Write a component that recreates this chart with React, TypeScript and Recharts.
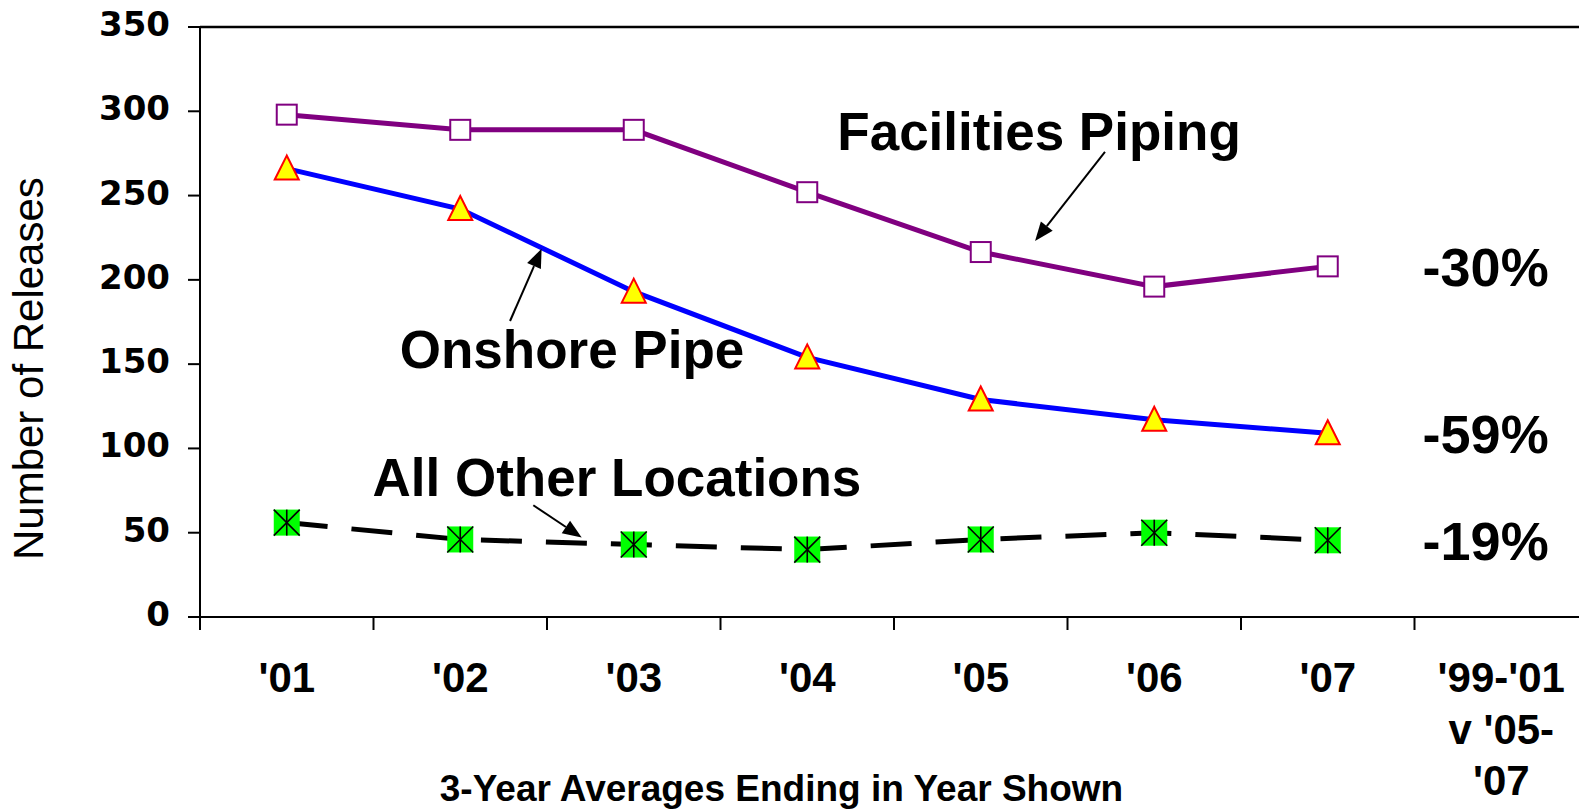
import { LineChart, Line, XAxis, YAxis, ReferenceLine, ReferenceDot } from "recharts";

// 3-year averages ending in year shown; last column is the '99-'01 vs '05-'07 change
const categories = ["'01", "'02", "'03", "'04", "'05", "'06", "'07", "'99-'01\nv '05-\n'07"];
const facilitiesPiping = [298, 289, 289, 252, 216.5, 196, 208];
const onshorePipe = [266, 242, 193, 154, 129, 117, 109];
const otherLocations = [56, 46, 43, 40, 46, 50, 45.5];
const changeLabels = ["-30%", "-59%", "-19%"];
const yTicks = [0, 50, 100, 150, 200, 250, 300, 350];

// band i is centred on i + 0.5 of a numeric axis running 0..8
const data = facilitiesPiping.map((_, i) => ({
  x: i + 0.5,
  facilities: facilitiesPiping[i],
  onshore: onshorePipe[i],
  other: otherLocations[i],
}));
const xTicks = categories.flatMap((_, i) => [i, i + 0.5]).concat(categories.length);

// annotation anchors in data units
const seriesNotes = [
  { text: "Facilities Piping", x: 4.836, y: 288.4, from: { x: 5.216, y: 275.9 }, to: { x: 4.813, y: 223 } },
  { text: "Onshore Pipe", x: 2.144, y: 158.8, from: { x: 1.787, y: 175.6 }, to: { x: 1.969, y: 218.5 } },
  { text: "All Other Locations", x: 2.403, y: 83, from: { x: 1.921, y: 66.3 }, to: { x: 2.2, y: 47.1 } },
];
const changeX = 7.41;
const lastValues = [facilitiesPiping[6], onshorePipe[6], otherLocations[6]];

const ARIAL = "'Liberation Sans', Arial, sans-serif";

function XTick({ x, y, payload }: any) {
  const v = payload.value;
  if (Number.isInteger(v)) {
    return <line x1={x} x2={x} y1={y} y2={y + 13} stroke="#000" strokeWidth={2} />;
  }
  const lines = categories[Math.floor(v)].split("\n");
  return (
    <text x={x} y={y + 75} textAnchor="middle" fontFamily={ARIAL} fontSize={42} fontWeight="bold" fill="#000">
      {lines.map((l, i) => (
        <tspan key={i} x={x} dy={i === 0 ? 0 : 51.5}>
          {l}
        </tspan>
      ))}
    </text>
  );
}

function YTick({ x, y, payload }: any) {
  return (
    <text x={x} y={y + 9} textAnchor="end" fontFamily="'DejaVu Sans', sans-serif" fontSize={34} fontWeight="bold" fill="#000">
      {payload.value}
    </text>
  );
}

function SquareDot({ cx, cy }: any) {
  return <rect x={cx - 10} y={cy - 10} width={20} height={20} fill="#fff" stroke="#800080" strokeWidth={2} />;
}

function TriangleDot({ cx, cy }: any) {
  return (
    <polygon
      points={`${cx},${cy - 13} ${cx - 12},${cy + 11} ${cx + 12},${cy + 11}`}
      fill="#ffff00"
      stroke="#ff0000"
      strokeWidth={2}
    />
  );
}

function StarSquareDot({ cx, cy }: any) {
  const h = 13;
  return (
    <g>
      <rect x={cx - h} y={cy - h} width={2 * h} height={2 * h} fill="#00ff00" />
      <line x1={cx - h} y1={cy - h} x2={cx + h} y2={cy + h} stroke="#000" strokeWidth={1.6} />
      <line x1={cx - h} y1={cy + h} x2={cx + h} y2={cy - h} stroke="#000" strokeWidth={1.6} />
      <line x1={cx} y1={cy - h} x2={cx} y2={cy + h} stroke="#000" strokeWidth={1.6} />
    </g>
  );
}

function Arrow({ x1, y1, x2, y2 }: any) {
  const a = Math.atan2(y2 - y1, x2 - x1);
  const len = 19;
  const w = 7.5;
  const bx = x2 - len * Math.cos(a);
  const by = y2 - len * Math.sin(a);
  const p1 = `${bx + w * Math.sin(a)},${by - w * Math.cos(a)}`;
  const p2 = `${bx - w * Math.sin(a)},${by + w * Math.cos(a)}`;
  return (
    <g>
      <line x1={x1} y1={y1} x2={bx} y2={by} stroke="#000" strokeWidth={2} />
      <polygon points={`${x2},${y2} ${p1} ${p2}`} fill="#000" />
    </g>
  );
}

function noteText(text: string, size: number) {
  return ({ cx, cy }: any) => (
    <text x={cx} y={cy} dy="0.358em" textAnchor="middle" fontFamily={ARIAL} fontSize={size} fontWeight="bold" fill="#000">
      {text}
    </text>
  );
}

export default function App() {
  return (
    <div style={{ position: "absolute", left: 0, top: 0, width: 1579, height: 811, overflow: "hidden", background: "#fff" }}>
      <LineChart width={1590} height={811} data={data} margin={{ top: 27, right: 2, bottom: 0, left: 0 }}>
        <XAxis
          dataKey="x"
          type="number"
          domain={[0, 8]}
          ticks={xTicks}
          interval={0}
          height={194}
          tickSize={0}
          tickMargin={0}
          tick={<XTick />}
          axisLine={{ stroke: "#000", strokeWidth: 2 }}
          label={(p: any) => (
            <text
              x={p.viewBox.x + 581.5}
              y={801}
              textAnchor="middle"
              fontFamily={ARIAL}
              fontSize={37}
              fontWeight="bold"
              fill="#000"
            >
              3-Year Averages Ending in Year Shown
            </text>
          )}
        />
        <YAxis
          type="number"
          domain={[0, 350]}
          ticks={yTicks}
          interval={0}
          width={200}
          tickSize={12}
          tickMargin={18}
          tick={<YTick />}
          tickLine={{ stroke: "#000", strokeWidth: 2 }}
          axisLine={{ stroke: "#000", strokeWidth: 2 }}
          label={(p: any) => (
            <text
              x={42.7}
              y={p.viewBox.y + 341.6}
              transform={`rotate(-90, 42.7, ${p.viewBox.y + 341.6})`}
              textAnchor="middle"
              fontFamily={ARIAL}
              fontSize={42}
              fill="#000"
            >
              Number of Releases
            </text>
          )}
        />
        <ReferenceLine y={350} stroke="#000" strokeWidth={2.5} />
        <Line
          dataKey="facilities"
          stroke="#800080"
          strokeWidth={5}
          dot={(p: any) => <SquareDot key={`f${p.index}`} {...p} />}
          activeDot={false}
          isAnimationActive={false}
        />
        <Line
          dataKey="onshore"
          stroke="#0000ff"
          strokeWidth={5}
          dot={(p: any) => <TriangleDot key={`o${p.index}`} {...p} />}
          activeDot={false}
          isAnimationActive={false}
        />
        <Line
          dataKey="other"
          stroke="#000"
          strokeWidth={5}
          strokeDasharray="41 24"
          dot={(p: any) => <StarSquareDot key={`a${p.index}`} {...p} />}
          activeDot={false}
          isAnimationActive={false}
        />
        {seriesNotes.map((n) => (
          <ReferenceLine key={`arrow-${n.text}`} segment={[n.from, n.to]} shape={(p: any) => <Arrow {...p} />} />
        ))}
        {seriesNotes.map((n) => (
          <ReferenceDot key={`note-${n.text}`} x={n.x} y={n.y} r={0} shape={noteText(n.text, 53)} />
        ))}
        {changeLabels.map((t, i) => (
          <ReferenceDot key={`chg-${t}`} x={changeX} y={lastValues[i]} r={0} shape={noteText(t, 54)} />
        ))}
      </LineChart>
    </div>
  );
}
